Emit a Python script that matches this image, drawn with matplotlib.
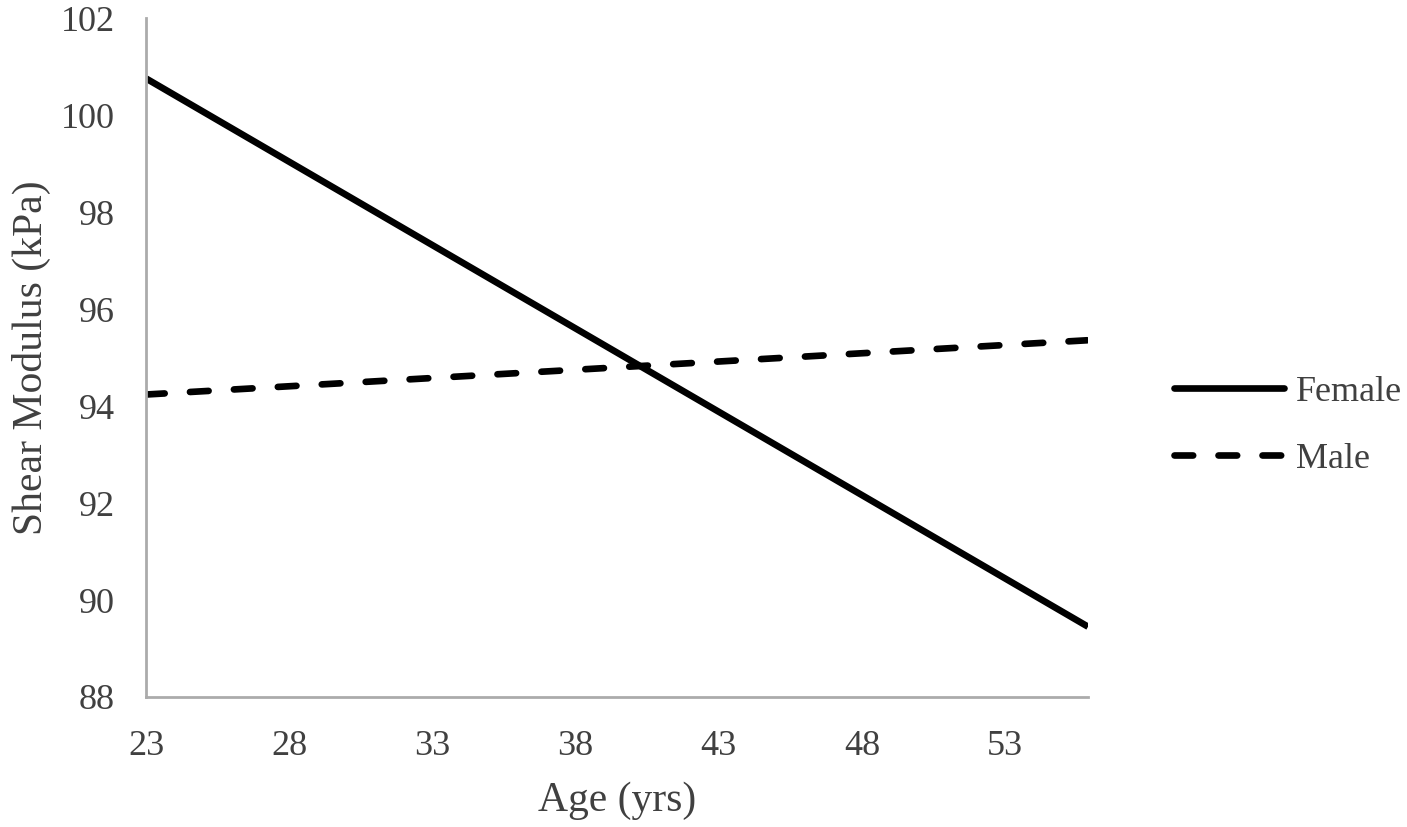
import matplotlib
matplotlib.use('Agg')
import matplotlib.pyplot as plt
from matplotlib.lines import Line2D

# trend lines (endpoints)
age = [23, 55.9]
female = [100.76, 89.45]
male = [94.24, 95.36]
x_ticks = [23, 28, 33, 38, 43, 48, 53]
y_ticks = [88, 90, 92, 94, 96, 98, 100, 102]

plt.rcParams['font.family'] = ['Liberation Serif', 'DejaVu Serif']
text_color = '#404040'
lw = 4.8
dash = (2.8, 3.8)

fig = plt.figure(figsize=(14.07, 8.27), dpi=100)
ax = fig.add_axes([0.1038, 0.1572, 0.6695, 0.8206])

ax.plot(age, female, color='black', lw=lw, solid_capstyle='butt', label='Female')
ax.plot(age, male, color='black', lw=lw, dashes=dash,
        dash_capstyle='round', label='Male')

ax.set_xlim(23, 55.9)
ax.set_ylim(88, 102)
ax.set_xticks(x_ticks)
ax.set_yticks(y_ticks)
ax.tick_params(length=0, labelsize=26, colors=text_color)
ax.tick_params(axis='x', pad=24)
ax.tick_params(axis='y', pad=22.5)

for side in ['top', 'right']:
    ax.spines[side].set_visible(False)
for side in ['left', 'bottom']:
    ax.spines[side].set_color('#ABABAB')
    ax.spines[side].set_linewidth(2)

ax.set_xlabel('Age (yrs)', fontsize=30, color=text_color, labelpad=13)
ax.set_ylabel('Shear Modulus (kPa)', fontsize=30, color=text_color, labelpad=7)

handles = [Line2D([], [], color='black', lw=lw, solid_capstyle='round'),
           Line2D([], [], color='black', lw=lw, dashes=dash, dash_capstyle='round')]
leg = fig.legend(handles, ['Female', 'Male'], loc='center left',
                 bbox_to_anchor=(0.811, 0.4855), frameon=False, fontsize=26,
                 handlelength=3.05, handletextpad=0.35, labelspacing=0.94)
for t in leg.get_texts():
    t.set_color(text_color)

plt.savefig('out.png', dpi=100)
